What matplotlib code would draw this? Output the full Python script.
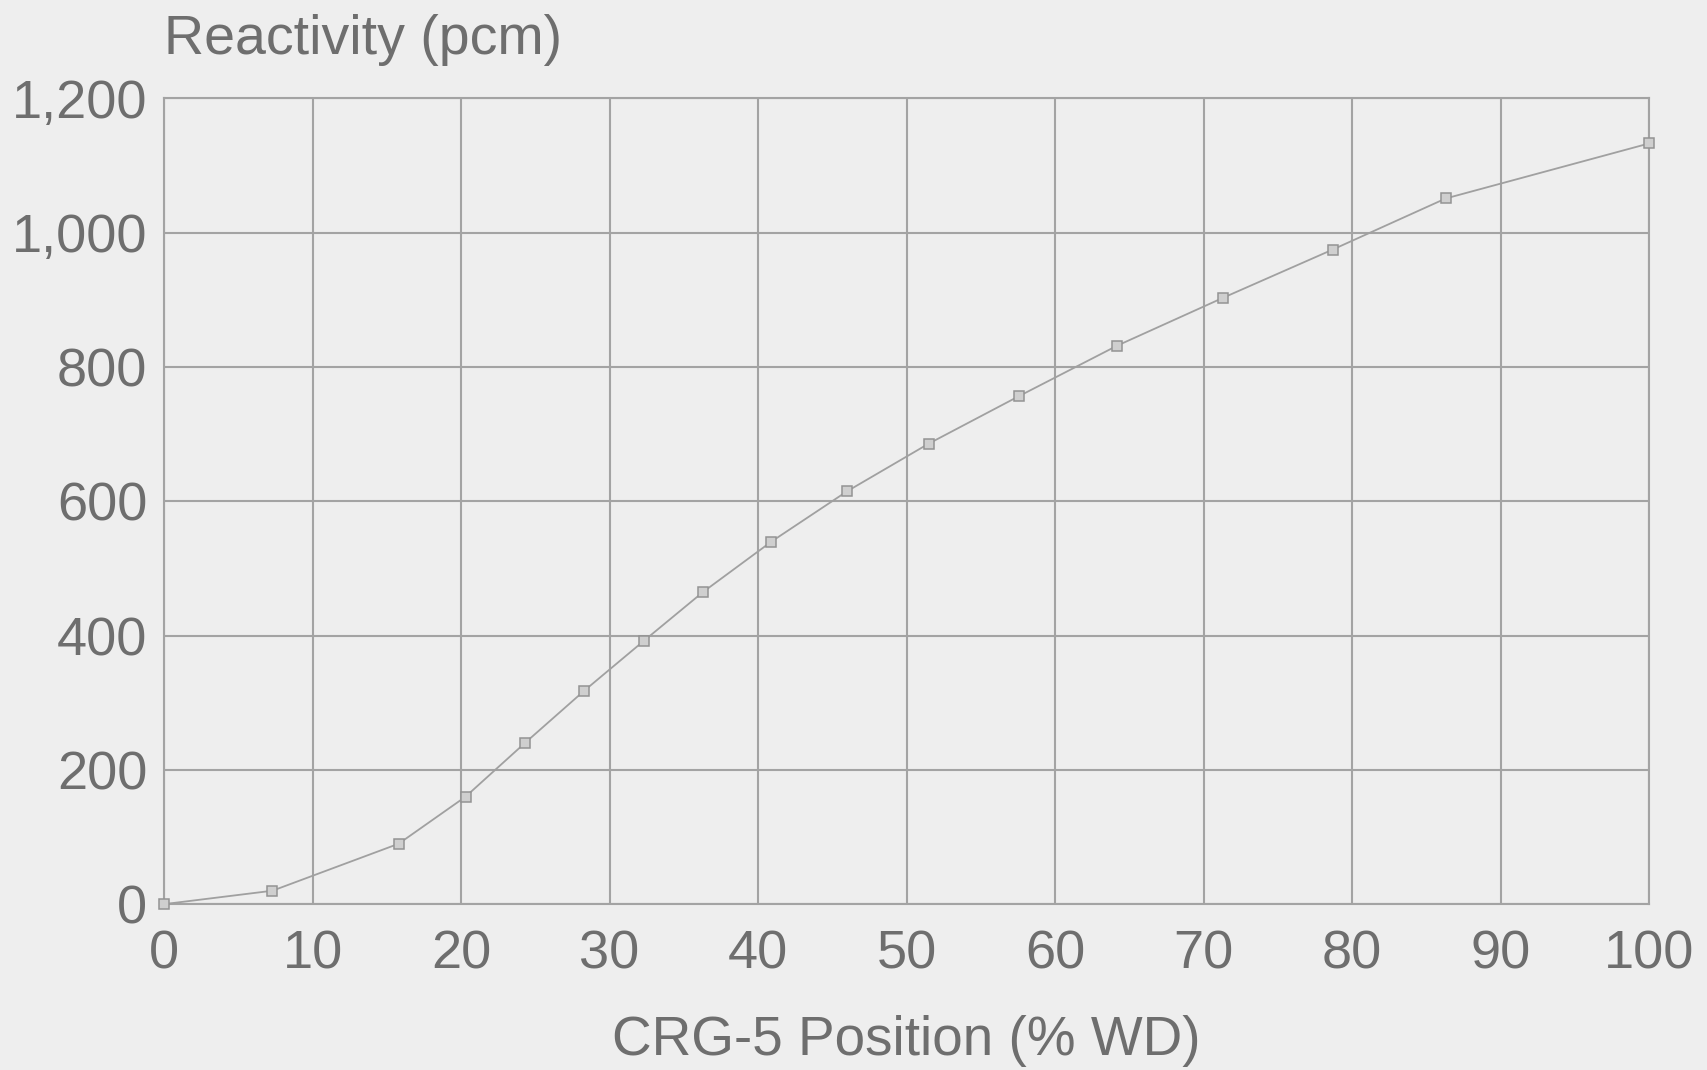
import matplotlib
matplotlib.use("Agg")
import matplotlib.pyplot as plt
from matplotlib.ticker import FuncFormatter

# CRG-5 rod worth curve
position = [0, 7.3, 15.8, 20.3, 24.3, 28.3, 32.3, 36.3, 40.9, 46.0,
            51.5, 57.6, 64.2, 71.3, 78.7, 86.3, 100]
reactivity = [0, 20, 90, 160, 240, 318, 392, 465, 540, 615,
              686, 757, 832, 903, 975, 1051, 1133]

x_ticks = list(range(0, 101, 10))
y_ticks = list(range(0, 1201, 200))

bg = "#eeeeee"
txt = "#6e6e6e"
gridc = "#a3a3a3"

plt.rcParams['font.family'] = ['Liberation Sans', 'DejaVu Sans']

fig = plt.figure(figsize=(17.07, 10.70), dpi=100, facecolor=bg)
ax = fig.add_axes([0.0961, 0.155, 0.8700, 0.753])
ax.set_facecolor(bg)

ax.plot(position, reactivity, color="#a0a0a0", lw=1.3, marker="s", ms=7,
        mfc="#cfcfcf", mec="#939393", mew=1.1, zorder=3, clip_on=False)

ax.set_xlim(0, 100)
ax.set_ylim(0, 1200)
ax.set_xticks(x_ticks)
ax.set_yticks(y_ticks)
ax.yaxis.set_major_formatter(FuncFormatter(lambda v, p: f"{int(v):,}"))
ax.grid(True, color=gridc, lw=1.5)
ax.set_axisbelow(True)
for s in ax.spines.values():
    s.set_color(gridc)
    s.set_linewidth(1.5)

ax.tick_params(axis="both", length=0, labelsize=39, labelcolor=txt)
ax.tick_params(axis="x", pad=18)
ax.tick_params(axis="y", pad=12)

ax.set_xlabel("CRG-5 Position (% WD)", fontsize=39.5, color=txt, labelpad=26)
fig.text(0.0961, 0.963, "Reactivity (pcm)", fontsize=40, color=txt,
         ha="left", va="center")

fig.savefig("out.png", dpi=100, facecolor=bg)
